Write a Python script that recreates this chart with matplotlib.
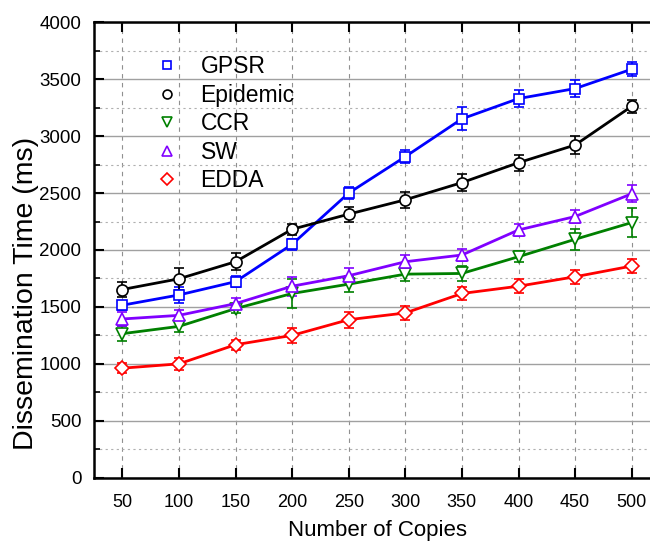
import matplotlib
matplotlib.use("Agg")
import matplotlib.pyplot as plt
from matplotlib.ticker import MultipleLocator

plt.rcParams['font.family'] = ['Liberation Sans', 'DejaVu Sans']

copies = [50, 100, 150, 200, 250, 300, 350, 400, 450, 500]

gpsr = [1515, 1605, 1722, 2050, 2500, 2820, 3152, 3330, 3418, 3588]
gpsr_err = [40, 70, 50, 50, 50, 55, 100, 75, 75, 63]

epidemic = [1653, 1747, 1897, 2182, 2315, 2441, 2592, 2767, 2922, 3262]
epidemic_err = [63, 95, 75, 50, 65, 70, 75, 70, 75, 55]

ccr = [1265, 1329, 1485, 1618, 1700, 1788, 1794, 1941, 2094, 2241]
ccr_err = [65, 50, 40, 125, 70, 60, 65, 50, 90, 125]

sw = [1394, 1426, 1529, 1682, 1774, 1897, 1956, 2176, 2294, 2494]
sw_err = [65, 45, 50, 85, 65, 55, 50, 50, 60, 75]

edda = [962, 1000, 1168, 1250, 1388, 1447, 1618, 1682, 1765, 1859]
edda_err = [45, 50, 45, 65, 70, 60, 55, 60, 60, 60]

series = [
    ("GPSR", gpsr, gpsr_err, "#0000ff", "s", 7),
    ("Epidemic", epidemic, epidemic_err, "#000000", "o", 8),
    ("CCR", ccr, ccr_err, "#008000", "v", 9),
    ("SW", sw, sw_err, "#8000ff", "^", 9),
    ("EDDA", edda, edda_err, "#ff0000", "D", 7.5),
]

fig = plt.figure(figsize=(6.5, 5.42), dpi=100)
ax = fig.add_axes([94/650, (542-477.7)/542, (660-94)/650, 455.4/542])

for name, vals, errs, col, mk, ms in series:
    ax.errorbar(copies, vals, yerr=errs, color=col, lw=2, marker=mk, ms=ms,
                mfc="white", mec=col, mew=1.2, capsize=3.5, elinewidth=1.2,
                capthick=1.2, zorder=3)

ax.set_xlim(25, 525)
ax.set_ylim(0, 4000)
ax.set_xticks(copies)
ax.yaxis.set_major_locator(MultipleLocator(500))
ax.yaxis.set_minor_locator(MultipleLocator(250))

ax.grid(axis='y', which='major', color='#a0a0a0', lw=1.0, ls='-', zorder=0)
ax.grid(axis='y', which='minor', color='#b0b0b0', lw=0.8, ls=(0, (2, 3)), zorder=0)
ax.grid(axis='x', which='major', color='#909090', lw=0.8, ls=(0, (4, 4)), zorder=0)

ax.tick_params(axis='x', which='major', direction='in', length=7, width=1.5,
               top=True, bottom=True, labelsize=13, pad=12)
ax.tick_params(axis='y', which='major', direction='in', length=7, width=1.5,
               labelsize=13.5, pad=9)
ax.tick_params(axis='y', which='minor', direction='in', length=4, width=1.2)
ax.tick_params(axis='x', which='minor', bottom=False, top=False)

for s in ax.spines.values():
    s.set_linewidth(1.8)

ax.set_xlabel("Number of Copies", fontsize=16)
ax.xaxis.set_label_coords((377 - 94) / 566, -(536 - 477.7) / 455.4)
ax.xaxis.label.set_va('baseline')
ax.set_ylabel("Dissemination Time (ms)", fontsize=20.5)
ax.yaxis.set_label_coords(-0.098, 0.405)

handles = []
for name, vals, errs, col, mk, ms in series:
    h, = ax.plot([], [], ls='none', marker=mk, ms=ms * 0.8, mfc='white', mec=col, mew=1.2, label=name)
    handles.append(h)
leg = ax.legend(handles=handles, loc='upper left', bbox_to_anchor=(0.093, 0.948),
                frameon=False, fontsize=16.5, handlelength=1.0, handletextpad=0.95,
                labelspacing=0.24, borderaxespad=0)

fig.savefig("out.png", dpi=100)
